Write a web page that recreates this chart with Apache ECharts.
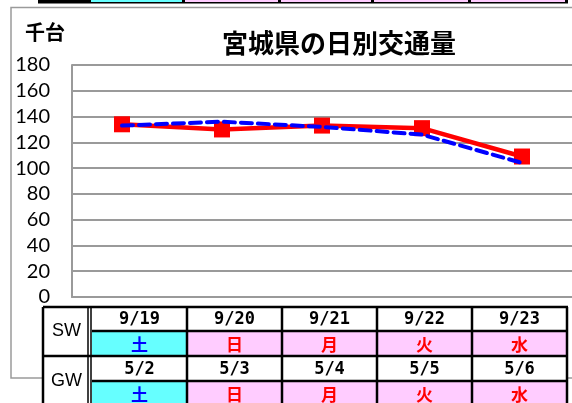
<!DOCTYPE html>
<html>
<head>
<meta charset="utf-8">
<script src="https://cdn.jsdelivr.net/npm/echarts@6/dist/echarts.min.js"></script>
<style>html,body{margin:0;padding:0;background:#fff;}#c{width:572px;height:403px;}</style>
</head>
<body>
<div id="c"></div>
<script>
const categories = ['9/19','9/20','9/21','9/22','9/23'];
const gwDates = ['5/2','5/3','5/4','5/5','5/6'];
const days = ['土','日','月','火','水'];
const swValues = [134, 130, 133, 131, 109];
const gwValues = [133, 136, 132, 126, 104];
const yTicks = {min: 0, max: 180, interval: 20};
const rowLabels = ['SW', 'GW'];
const titleText = '宮城県の日別交通量';
const unitText = '千台';

const chart = echarts.init(document.getElementById('c'), null, {renderer: 'canvas'});

const tX0 = 43, tColHeadEnd = 88, tDataX0 = 92, colW = 95, rowY = [307, 331, 356, 381, 406];
const g = [];
g.push({type:'rect', shape:{x:11, y:7.5, width:620, height:370.5}, style:{fill:'none', stroke:'#9a9a9a', lineWidth:1.5}, z:-1});
g.push({type:'rect', shape:{x:38, y:-5, width:530, height:8.5}, style:{fill:'#000'}});
g.push({type:'rect', shape:{x:91, y:-5, width:91, height:7}, style:{fill:'#66ffff'}});
[185, 281, 374, 471].forEach((x, i) => {
  g.push({type:'rect', shape:{x:x, y:-5, width:[93,90,94,94][i], height:7}, style:{fill:'#ffccff'}});
});
g.push({type:'rect', shape:{x:tX0, y:rowY[0], width:567-tX0, height:403-rowY[0]+5}, style:{fill:'#fff'}});
for (let r = 0; r < 2; r++) {
  const y = rowY[r*2+1];
  const h = rowY[r*2+2] - y;
  days.forEach((d, i) => {
    g.push({type:'rect', shape:{x:tDataX0 + i*colW, y:y, width:colW, height:h},
      style:{fill: i === 0 ? '#66ffff' : '#ffccff'}});
  });
}
const dateFont = 'bold 17px "DejaVu Sans Mono"';
categories.forEach((c, i) => {
  g.push({type:'text', x: tDataX0 + i*colW + colW/2, y: (rowY[0]+rowY[1])/2 + 1,
    style:{text:c, fill:'#000', font:dateFont, align:'center', verticalAlign:'middle'}});
});
gwDates.forEach((c, i) => {
  g.push({type:'text', x: tDataX0 + i*colW + colW/2, y: (rowY[2]+rowY[3])/2 + 1,
    style:{text:c, fill:'#000', font:dateFont, align:'center', verticalAlign:'middle'}});
});
for (let r = 0; r < 2; r++) {
  days.forEach((d, i) => {
    g.push({type:'text', x: tDataX0 + i*colW + colW/2, y: (rowY[r*2+1]+rowY[r*2+2])/2 + 1,
      style:{text:d, fill: i === 0 ? '#0000ff' : '#ff0000', font:'bold 17px "Noto Sans CJK JP"', align:'center', verticalAlign:'middle'}});
  });
  g.push({type:'text', x:(tX0+tColHeadEnd)/2 + 1, y:(rowY[r*2]+rowY[r*2+2])/2,
    style:{text:rowLabels[r], fill:'#000', font:'18px "Liberation Sans"', align:'center', verticalAlign:'middle'}});
}
const ls = {stroke:'#000', lineWidth:2.5};
[rowY[0], rowY[2]].forEach(y => g.push({type:'line', shape:{x1:tX0, y1:y, x2:568, y2:y}, style:ls}));
[rowY[1], rowY[3]].forEach(y => g.push({type:'line', shape:{x1:tDataX0, y1:y, x2:568, y2:y}, style:ls}));
g.push({type:'line', shape:{x1:tX0, y1:rowY[0], x2:tX0, y2:410}, style:ls});
g.push({type:'line', shape:{x1:tColHeadEnd, y1:rowY[0], x2:tColHeadEnd, y2:410}, style:{stroke:'#000', lineWidth:1.5}});
g.push({type:'line', shape:{x1:tColHeadEnd+3, y1:rowY[0], x2:tColHeadEnd+3, y2:410}, style:{stroke:'#000', lineWidth:1.5}});
for (let i = 1; i <= 5; i++) {
  const x = tDataX0 + i*colW;
  g.push({type:'line', shape:{x1:x, y1:rowY[0], x2:x, y2:410}, style:ls});
}
g.push({type:'text', x:25, y:32, style:{text:unitText, fill:'#000', font:'bold 20px "Noto Sans CJK JP"', align:'left', verticalAlign:'middle'}});

chart.setOption({
  backgroundColor: '#fff',
  animation: false,
  title: {
    text: titleText, left: 334, top: 25, textAlign: 'center',
    textStyle: {fontFamily: '"Noto Sans CJK JP"', fontWeight: 'bold', fontSize: 26, color: '#000'}
  },
  grid: {left: 72, top: 65, width: 510, height: 232, containLabel: false},
  xAxis: {
    type: 'category', data: categories, boundaryGap: true,
    axisLine: {show: true, lineStyle: {color: '#9a9a9a', width: 2}},
    axisTick: {show: false}, axisLabel: {show: false}, splitLine: {show: false}
  },
  yAxis: {
    type: 'value', min: yTicks.min, max: yTicks.max, interval: yTicks.interval,
    axisLine: {show: true, lineStyle: {color: '#9a9a9a', width: 2}},
    axisTick: {show: false},
    axisLabel: {margin: 22, fontFamily: 'Lato', fontSize: 20, color: '#000'},
    splitLine: {show: true, lineStyle: {color: '#9a9a9a', width: 2}}
  },
  series: [
    {
      name: 'SW', type: 'line', data: swValues,
      symbol: 'rect', symbolSize: 16, showSymbol: true,
      itemStyle: {color: '#ff0000'},
      lineStyle: {color: '#ff0000', width: 4.5}, z: 2
    },
    {
      name: 'GW', type: 'line', data: gwValues,
      symbol: 'none',
      lineStyle: {color: '#0000ff', width: 4, type: [11, 6], cap: 'round'}, z: 3
    }
  ],
  graphic: g
});
</script>
</body>
</html>
